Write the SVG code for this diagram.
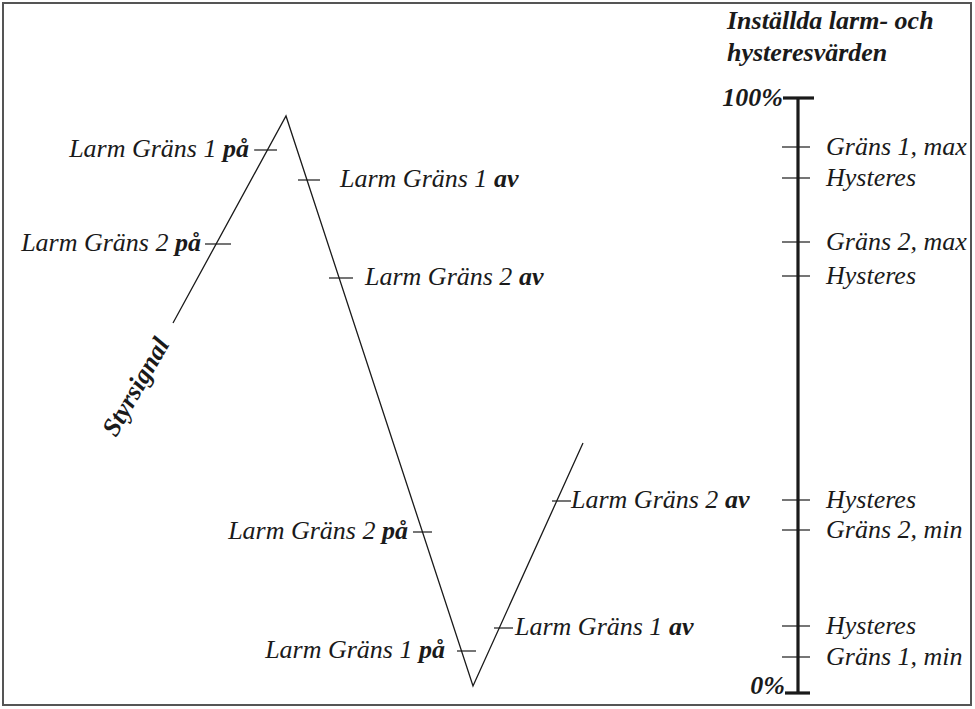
<svg xmlns="http://www.w3.org/2000/svg" width="975" height="709" viewBox="0 0 975 709">
<style>
text{font-family:"Liberation Serif","Times New Roman",serif;font-size:26px;font-style:italic;fill:#1a1a1a}
.b{font-weight:bold}
.end{text-anchor:end}
.tick{stroke:#1a1a1a;stroke-width:1.2;fill:none}
.sig{stroke:#1a1a1a;stroke-width:1.3;fill:none;stroke-linejoin:miter}
.axis{stroke:#1a1a1a;stroke-width:3.2;fill:none}
</style>
<rect x="3" y="3" width="968" height="702" fill="#fff" stroke="#555" stroke-width="2"/>
<g id="signal">
<polyline class="sig" points="173,323 286,116 473,686 583,443"/>
<text class="b" transform="translate(143,391) rotate(-60)" text-anchor="middle">Styrsignal</text>
</g>
<g id="g1-pa-up"><line class="tick" x1="254" y1="150" x2="277" y2="150"/><text class="end" x="249" y="157">Larm Gräns 1 <tspan class="b">på</tspan></text></g>
<g id="g2-pa-up"><line class="tick" x1="205" y1="244" x2="231" y2="244"/><text class="end" x="201" y="251">Larm Gräns 2 <tspan class="b">på</tspan></text></g>
<g id="g1-av-down"><line class="tick" x1="298" y1="180" x2="320" y2="180"/><text x="340" y="187">Larm Gräns 1 <tspan class="b">av</tspan></text></g>
<g id="g2-av-down"><line class="tick" x1="329" y1="278" x2="353" y2="278"/><text x="365" y="285">Larm Gräns 2 <tspan class="b">av</tspan></text></g>
<g id="g2-pa-down"><line class="tick" x1="413" y1="532" x2="432" y2="532"/><text class="end" x="408" y="539">Larm Gräns 2 <tspan class="b">på</tspan></text></g>
<g id="g1-pa-down"><line class="tick" x1="457" y1="651" x2="476" y2="651"/><text class="end" x="445" y="658">Larm Gräns 1 <tspan class="b">på</tspan></text></g>
<g id="g1-av-up"><line class="tick" x1="494" y1="628" x2="513" y2="628"/><text x="515" y="635">Larm Gräns 1 <tspan class="b">av</tspan></text></g>
<g id="g2-av-up"><line class="tick" x1="552" y1="501" x2="571" y2="501"/><text x="571" y="508">Larm Gräns 2 <tspan class="b">av</tspan></text></g>
<g id="scale">
<text class="b" x="727" y="29">Inställda larm- och</text>
<text class="b" x="727" y="61">hysteresvärden</text>
<line class="axis" x1="798" y1="98" x2="798" y2="693"/>
<line class="axis" x1="783" y1="98" x2="814" y2="98"/>
<line class="axis" x1="785" y1="693" x2="810" y2="693"/>
<text class="b end" x="783" y="106">100%</text>
<text class="b end" x="785" y="694">0%</text>
<line class="tick" x1="782" y1="147" x2="810" y2="147"/><text x="826" y="155">Gräns 1, max</text>
<line class="tick" x1="782" y1="178" x2="810" y2="178"/><text x="826" y="186">Hysteres</text>
<line class="tick" x1="782" y1="242" x2="810" y2="242"/><text x="826" y="250">Gräns 2, max</text>
<line class="tick" x1="782" y1="276" x2="810" y2="276"/><text x="826" y="284">Hysteres</text>
<line class="tick" x1="782" y1="500" x2="810" y2="500"/><text x="826" y="508">Hysteres</text>
<line class="tick" x1="782" y1="530" x2="810" y2="530"/><text x="826" y="538">Gräns 2, min</text>
<line class="tick" x1="782" y1="626" x2="810" y2="626"/><text x="826" y="634">Hysteres</text>
<line class="tick" x1="782" y1="657" x2="810" y2="657"/><text x="826" y="665">Gräns 1, min</text>
</g>
</svg>
